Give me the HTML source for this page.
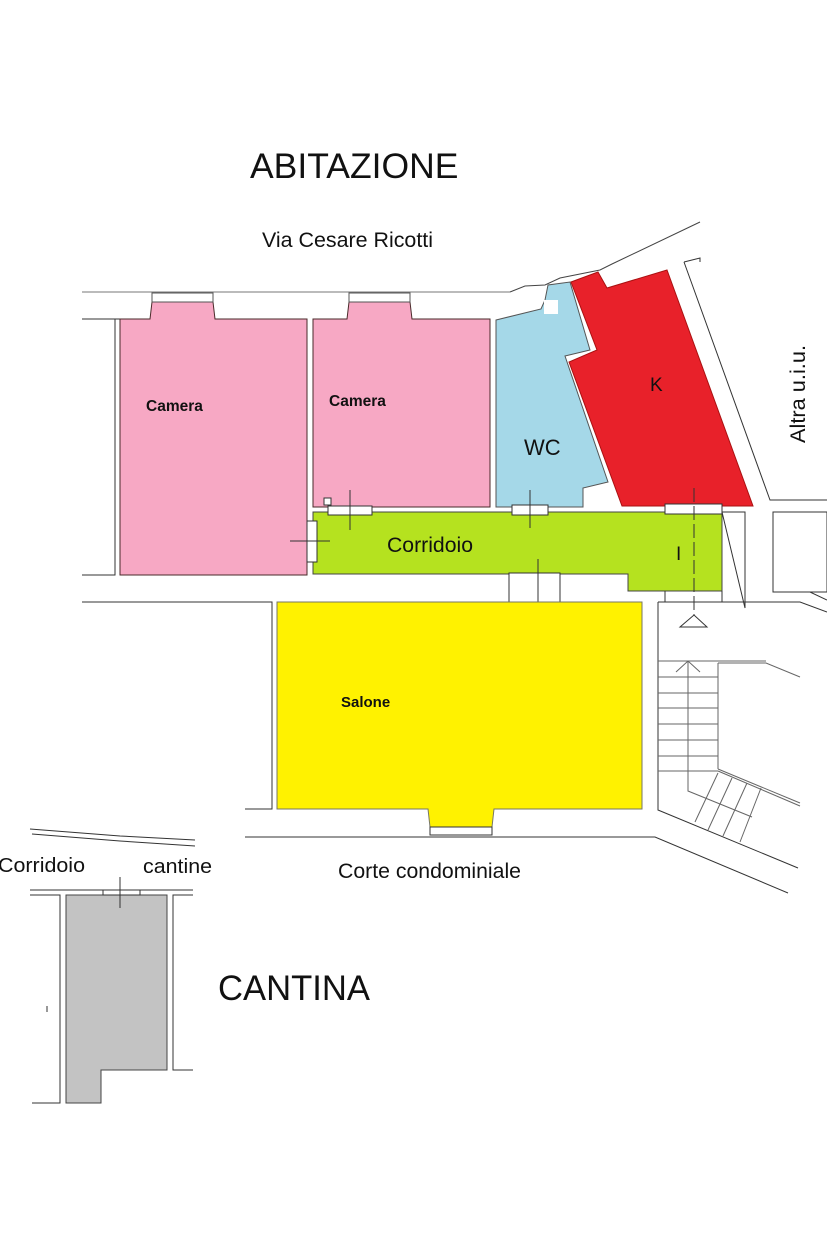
<!DOCTYPE html>
<html><head><meta charset="utf-8"><style>
html,body{margin:0;padding:0;background:#fff;}
svg{display:block;}
text{font-family:"Liberation Sans",Arial,sans-serif;fill:#111;}
</style></head><body>
<svg width="827" height="1240" viewBox="0 0 827 1240" xmlns="http://www.w3.org/2000/svg">
<g stroke="#333" stroke-width="1" fill="none">
<line x1="82" y1="292" x2="510" y2="292" stroke="#777"/>
<polyline points="510,292 525,286 545,285 560,278 600,270 612,264 700,222" stroke="#444"/>
<polyline points="82,319 120,319"/>
<polyline points="684,262 700,258 700,262"/>
<polyline points="684,262 770,500 827,500"/>
<polyline points="82,319 115,319 115,575 82,575"/>
<polygon points="120,319 150,319 152,302 213,302 215,319 307,319 307,575 120,575" fill="#f7a8c4" stroke="#4a2a2a"/>
<rect x="152" y="293" width="61" height="9" fill="#fff" stroke="#555"/>
<polygon points="313,319 347,319 349,302 410,302 412,319 490,319 490,507 313,507" fill="#f7a8c4" stroke="#4a2a2a"/>
<rect x="349" y="293" width="61" height="9" fill="#fff" stroke="#555"/>
<polygon points="496,320 541,309 545,300 548,285 570,282 590,350 565,356 608,482 583,488 583,507 496,507" fill="#a5d8e8" stroke="#555"/>
<rect x="544" y="300" width="14" height="14" fill="#fff" stroke="none"/>
<polygon points="571,282 598,272 607,288 667,270 753,506 622,506 569,362 597,350" fill="#e8212a" stroke="#a11"/>
<polygon points="313,512 722,512 722,591 628,591 628,574 313,574" fill="#b5e21f" stroke="#444"/>
<polyline points="722,512 745,512 745,608 722,512"/>
<polyline points="665,591 665,602"/>
<line x1="722" y1="591" x2="722" y2="602"/>
<rect x="773" y="512" width="54" height="80"/>
<polyline points="773,592 810,592 827,600"/>
<rect x="328" y="506" width="44" height="9" fill="#fff"/>
<line x1="350" y1="490" x2="350" y2="530"/>
<rect x="324" y="498" width="7" height="7" fill="#fff"/>
<rect x="307" y="521" width="10" height="41" fill="#fff"/>
<line x1="290" y1="541" x2="330" y2="541"/>
<rect x="512" y="505" width="36" height="10" fill="#fff"/>
<line x1="530" y1="490" x2="530" y2="528"/>
<rect x="665" y="504" width="57" height="10" fill="#fff"/>
<line x1="694" y1="488" x2="694" y2="620" stroke-dasharray="14,4"/>
<rect x="509" y="573" width="51" height="30" fill="#fff"/>
<line x1="538" y1="559" x2="538" y2="612"/>
<polygon points="680,627 707,627 694,615" fill="#fff"/>
<polyline points="82,602 272,602 272,809 245,809"/>
<polygon points="277,602 642,602 642,809 494,809 492,827 430,827 428,809 277,809" fill="#fff200" stroke="#776"/>
<rect x="430" y="827" width="62" height="8" fill="#fff"/>
<line x1="245" y1="837" x2="642" y2="837"/>
<polyline points="658,602 800,602 827,612"/>
<polyline points="658,602 658,810 798,868"/>
<polyline points="642,837 655,837 788,893"/>
<g stroke="#666">
<line x1="658" y1="661" x2="766" y2="661"/>
<polyline points="718,663 766,663 800,677"/>
<line x1="718" y1="663" x2="718" y2="769"/>
<polyline points="718,769 800,803"/>
<polyline points="718,771 800,806"/>
<line x1="658" y1="677" x2="718" y2="677"/><line x1="658" y1="693" x2="718" y2="693"/>
<line x1="658" y1="708" x2="718" y2="708"/><line x1="658" y1="724" x2="718" y2="724"/>
<line x1="658" y1="740" x2="718" y2="740"/><line x1="658" y1="756" x2="718" y2="756"/>
<line x1="658" y1="771" x2="718" y2="771"/>
<polyline points="688,661 688,791 752,817"/>
<polyline points="676,672 688,661 700,672"/>
<line x1="718" y1="773" x2="695" y2="822"/><line x1="732" y1="778" x2="708" y2="830"/>
<line x1="747" y1="783" x2="723" y2="836"/><line x1="761" y1="788" x2="740" y2="842"/>
</g>
<polyline points="30,829 120,836 195,840"/>
<polyline points="32,834 120,841 195,846"/>
<polyline points="30,890 193,890"/>
<polyline points="30,895 60,895 60,1103 32,1103"/>
<polygon points="66,895 167,895 167,1070 101,1070 101,1103 66,1103" fill="#c3c3c3" stroke="#444"/>
<rect x="103" y="890" width="37" height="5" fill="#fff"/>
<line x1="120" y1="877" x2="120" y2="908"/>
<polyline points="193,895 173,895 173,1070 193,1070"/>
<line x1="47" y1="1006" x2="47" y2="1012"/>
</g>
<text x="250" y="178" font-size="35.5">ABITAZIONE</text>
<text x="262" y="247" font-size="21" textLength="171" lengthAdjust="spacingAndGlyphs">Via Cesare Ricotti</text>
<text x="146" y="411" font-size="15.5" font-weight="bold">Camera</text>
<text x="329" y="406" font-size="15.5" font-weight="bold">Camera</text>
<text x="524" y="455" font-size="22">WC</text>
<text x="650" y="391" font-size="19">K</text>
<text transform="translate(805,443) rotate(-90)" font-size="21" textLength="98" lengthAdjust="spacingAndGlyphs">Altra u.i.u.</text>
<text x="387" y="552" font-size="21" textLength="86" lengthAdjust="spacingAndGlyphs">Corridoio</text>
<text x="676" y="560" font-size="19">I</text>
<text x="341" y="707" font-size="15" font-weight="bold">Salone</text>
<text x="338" y="878" font-size="21" textLength="183" lengthAdjust="spacingAndGlyphs">Corte condominiale</text>
<text x="-2" y="872" font-size="20.5" textLength="87" lengthAdjust="spacingAndGlyphs">Corridoio</text>
<text x="143" y="873" font-size="20.5" textLength="69" lengthAdjust="spacingAndGlyphs">cantine</text>
<text x="218" y="1000" font-size="35" textLength="152" lengthAdjust="spacingAndGlyphs">CANTINA</text>
</svg>
</body></html>
